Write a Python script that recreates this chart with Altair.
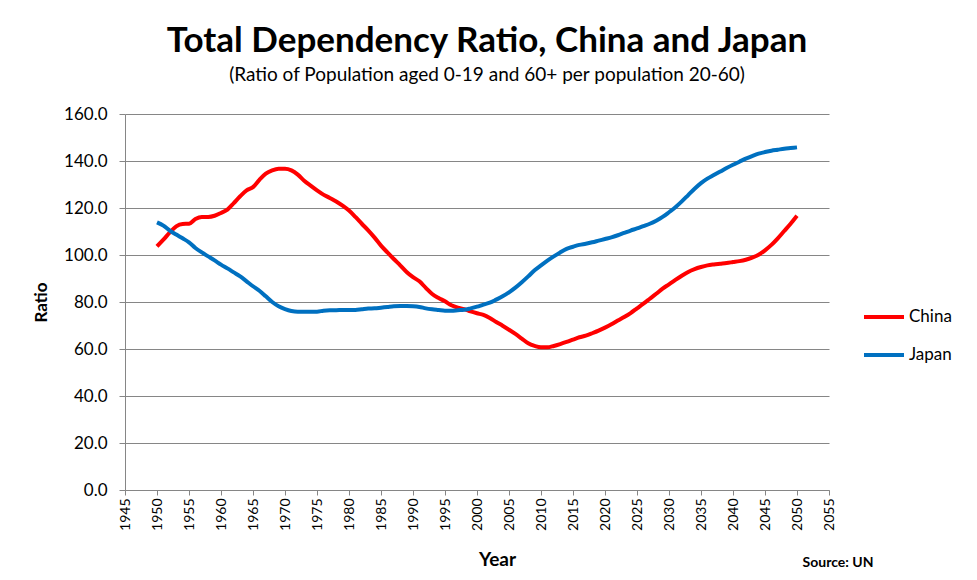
import altair as alt
import pandas as pd

years = list(range(1950, 2051))

china = [103.7, 106.5, 109.6, 112.2, 113.2, 113.3, 115.3, 116.2, 116.2, 116.7,
         117.9, 119.3, 122.1, 125.0, 127.5, 128.9, 132.0, 134.6, 136.0, 136.7,
         136.7, 136.0, 134.2, 131.6, 129.5, 127.5, 125.7, 124.3, 122.8, 121.0,
         118.9, 116.2, 113.3, 110.5, 107.4, 104.0, 101.1, 98.3, 95.6, 92.8,
         90.6, 88.8, 86.0, 83.4, 81.7, 80.3, 78.6, 77.6, 77.0, 76.0,
         75.2, 74.5, 73.2, 71.5, 69.9, 68.2, 66.4, 64.4, 62.4, 61.3,
         60.7, 60.7, 61.3, 62.1, 63.0, 64.0, 65.0, 65.7, 66.7, 67.8,
         69.1, 70.5, 72.1, 73.6, 75.3, 77.3, 79.3, 81.4, 83.5, 85.7,
         87.5, 89.4, 91.2, 92.8, 94.0, 94.9, 95.6, 96.0, 96.3, 96.6,
         97.0, 97.4, 98.0, 98.9, 100.1, 102.0, 104.3, 107.1, 110.2, 113.3,
         116.7]

japan = [113.9, 112.5, 110.4, 108.7, 107.1, 105.4, 103.0, 101.1, 99.4, 97.7,
         95.9, 94.3, 92.6, 90.9, 88.8, 86.7, 84.8, 82.4, 80.0, 78.2,
         77.0, 76.2, 75.9, 75.9, 75.9, 75.9, 76.3, 76.5, 76.5, 76.6,
         76.6, 76.6, 76.9, 77.2, 77.3, 77.6, 77.9, 78.2, 78.3, 78.3,
         78.2, 77.9, 77.3, 76.9, 76.6, 76.3, 76.3, 76.5, 76.7, 77.3,
         78.0, 78.9, 79.7, 81.0, 82.4, 84.1, 86.1, 88.4, 90.9, 93.5,
         95.6, 97.6, 99.4, 101.1, 102.6, 103.5, 104.3, 104.8, 105.4, 106.1,
         106.8, 107.5, 108.4, 109.4, 110.4, 111.3, 112.3, 113.3, 114.6, 116.2,
         118.2, 120.3, 122.8, 125.5, 128.2, 130.6, 132.5, 134.0, 135.5, 137.0,
         138.4, 139.7, 141.0, 142.1, 143.1, 143.8, 144.4, 144.8, 145.2, 145.5,
         145.8]

series_names = ["China", "Japan"]
series_colors = ["#FF0000", "#0070C0"]
x_ticks = list(range(1945, 2056, 5))
y_ticks = list(range(0, 161, 20))

df = pd.concat([
    pd.DataFrame({"Year": years, "Ratio": china, "Country": "China"}),
    pd.DataFrame({"Year": years, "Ratio": japan, "Country": "Japan"}),
])

FONT = "Lato"
GRID = "#868686"

lines = alt.Chart(df).mark_line(strokeWidth=4, interpolate="monotone").encode(
    x=alt.X("Year:Q",
            scale=alt.Scale(domain=[1945, 2055], nice=False, zero=False),
            axis=alt.Axis(values=x_ticks, format="d", labelAngle=270,
                          title="Year", titleFontSize=19, titleFontWeight="bold",
                          titleX=372, titleY=69, titleBaseline="middle",
                          labelFontSize=14, labelPadding=3, grid=False,
                          tickSize=5, labelFlush=False)),
    y=alt.Y("Ratio:Q",
            scale=alt.Scale(domain=[0, 160], nice=False),
            axis=alt.Axis(values=y_ticks, format=".1f", title="Ratio",
                          titleFontSize=17, titleFontWeight="bold",
                          titlePadding=13, labelFontSize=17, labelPadding=12,
                          tickSize=6, grid=True)),
    color=alt.Color("Country:N",
                    scale=alt.Scale(domain=series_names, range=series_colors),
                    legend=alt.Legend(title=None, orient="none",
                                      legendX=737, legendY=181,
                                      symbolType="stroke", symbolSize=1600,
                                      symbolStrokeWidth=4, labelFontSize=17,
                                      labelOffset=3, rowPadding=8,
                                      labelColor="black")),
)

source = alt.Chart().mark_text(
    text="Source: UN", font=FONT, fontSize=14, fontWeight="bold",
    align="center", baseline="middle", color="black"
).encode(x=alt.value(713), y=alt.value(449))

chart = alt.layer(lines, source).properties(
    width=704,
    height=376,
    padding={"left": 117, "top": 106, "right": 140, "bottom": 82},
    autosize=alt.AutoSizeParams(type="none"),
    title=alt.TitleParams(
        text="Total Dependency Ratio, China and Japan",
        subtitle="(Ratio of Population aged 0-19 and 60+ per population 20-60)",
        fontSize=35, fontWeight="bold", subtitleFontSize=19,
        subtitleColor="black", color="black", anchor="middle",
        dx=10, offset=20, subtitlePadding=7, font=FONT, subtitleFont=FONT,
    ),
).configure(
    font=FONT,
    background="white",
).configure_view(
    stroke=None,
).configure_axis(
    domainColor=GRID, tickColor=GRID, gridColor=GRID, gridOpacity=1,
    labelColor="black", titleColor="black", labelFont=FONT, titleFont=FONT,
    domainWidth=1, gridWidth=1,
).configure_legend(
    labelFont=FONT,
)

chart.save("out.html", embed_options={"renderer": "svg", "actions": False})
